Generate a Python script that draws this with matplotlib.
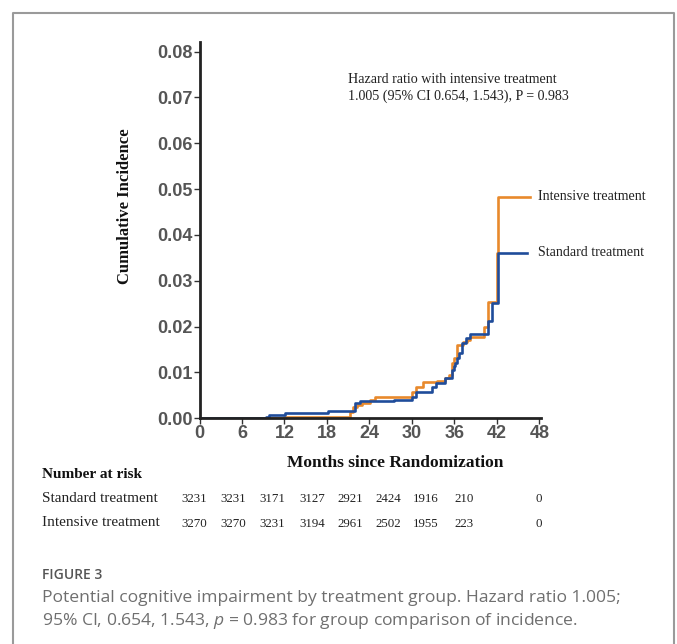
import matplotlib
matplotlib.use("Agg")
import matplotlib.pyplot as plt
from matplotlib.lines import Line2D

# step data (months, cumulative incidence)
std_t = [0, 9.4, 9.8, 12.1, 18.1, 21.9, 22.0, 22.6, 27.4, 30.0, 30.6, 32.8, 33.4,
         34.7, 35.6, 35.9, 36.1, 36.4, 36.6, 37.0, 37.6, 38.2, 40.8, 41.3, 42.2, 46.2]
std_y = [0, 0.0003, 0.0007, 0.0011, 0.0017, 0.0023, 0.0033, 0.0038, 0.0041, 0.0047,
         0.0058, 0.0069, 0.0078, 0.0087, 0.0105, 0.0115, 0.0121, 0.0132, 0.0142,
         0.0164, 0.0175, 0.0184, 0.0213, 0.0251, 0.0361, 0.0361]

int_t = [0, 12.0, 21.3, 21.7, 22.3, 22.9, 24.1, 24.8, 30.0, 30.6, 31.6, 33.5, 34.7,
         35.3, 35.6, 35.9, 36.3, 37.2, 37.8, 38.2, 40.2, 40.8, 42.0, 42.1, 42.2, 46.6]
int_y = [0, 0.0002, 0.0014, 0.0024, 0.0029, 0.0033, 0.0041, 0.0047, 0.0058, 0.0068,
         0.0080, 0.0082, 0.0087, 0.0094, 0.0120, 0.0131, 0.0160, 0.0167, 0.0171,
         0.0178, 0.0200, 0.0254, 0.0360, 0.0418, 0.0483, 0.0483]

x_ticks = [0, 6, 12, 18, 24, 30, 36, 42, 48]
y_ticks = [0.00, 0.01, 0.02, 0.03, 0.04, 0.05, 0.06, 0.07, 0.08]

risk_rows = ["Standard treatment", "Intensive treatment"]
risk_std = ["3231", "3231", "3171", "3127", "2921", "2424", "1916", "210", "0"]
risk_int = ["3270", "3270", "3231", "3194", "2961", "2502", "1955", "223", "0"]

orange = "#E8892C"
blue = "#1F4C9A"
serif = "Liberation Serif"

W, H = 677, 644
fig = plt.figure(figsize=(W / 100, H / 100), dpi=100)

# outer frame (bottom edge runs off the picture)
fig.add_artist(Line2D([13 / W, 13 / W, 674 / W, 674 / W], [0, 1 - 13 / H, 1 - 13 / H, 0],
                      transform=fig.transFigure, color="#9a9a9a", lw=1.5))

ax = fig.add_axes([199.5 / W, 1 - 418.3 / H, 341 / W, 376.3 / H])
ax.step(int_t, int_y, where="post", color=orange, lw=1.9)
ax.step(std_t, std_y, where="post", color=blue, lw=1.9)
ax.set_xlim(0, 48.15)
ax.set_ylim(0, 0.0821)
ax.set_xticks(x_ticks)
ax.set_yticks(y_ticks)
ax.set_yticklabels(["%.2f" % v for v in y_ticks])
for s in ["top", "right"]:
    ax.spines[s].set_visible(False)
for s in ["left", "bottom"]:
    ax.spines[s].set_linewidth(2)
    ax.spines[s].set_color("#222222")
ax.tick_params(length=4, width=1, color="#333333", pad=1)
for lab in ax.get_xticklabels() + ax.get_yticklabels():
    lab.set_fontfamily("Liberation Sans")
    lab.set_fontweight("bold")
    lab.set_fontsize(13)
    lab.set_color("#555555")

ax.text(47.8, int_y[-1], "Intensive treatment", family=serif, fontsize=10.1,
        va="center", ha="left", color="#222222", clip_on=False)
ax.text(47.8, std_y[-1], "Standard treatment", family=serif, fontsize=10.1,
        va="center", ha="left", color="#222222", clip_on=False)

ax.text(21.0, 0.0720, "Hazard ratio with intensive treatment\n1.005 (95% CI 0.654, 1.543), P = 0.983",
        family=serif, fontsize=10.1, va="center", ha="left", color="#222222", linespacing=1.35)

fig.text(125 / W, 1 - 206 / H, "Cumulative Incidence", family=serif, fontweight="bold",
         fontsize=12, rotation=90, ha="center", va="center", color="#111111")
fig.text(395 / W, 1 - 463 / H, "Months since Randomization", family=serif, fontweight="bold",
         fontsize=12.5, ha="center", va="center", color="#111111")

# number at risk table
fig.text(42 / W, 1 - 474 / H, "Number at risk", family=serif, fontweight="bold",
         fontsize=11, ha="left", va="center", color="#111111")
row_y = [498, 523]
col_x = [194, 233, 272, 312, 350, 388, 426, 464, 539]
for name, vals, yy in zip(risk_rows, [risk_std, risk_int], row_y):
    fig.text(42 / W, 1 - yy / H, name, family=serif, fontsize=11, ha="left", va="center",
             color="#222222")
    for xx, v in zip(col_x, vals):
        fig.text(xx / W, 1 - (yy + 1) / H, v, family=serif, fontsize=9.3, ha="center",
                 va="center", color="#222222")

# caption
plt.rcParams["mathtext.fontset"] = "custom"
plt.rcParams["mathtext.it"] = "Open Sans:italic"
plt.rcParams["mathtext.rm"] = "Open Sans"
fig.text(42 / W, 1 - 575 / H, "FIGURE 3", family="Open Sans", fontsize=10,
         fontweight="semibold", ha="left", va="center", color="#555555")
fig.text(42 / W, 1 - 598 / H,
         "Potential cognitive impairment by treatment group. Hazard ratio 1.005;",
         family="Open Sans", fontsize=12.6, ha="left", va="center", color="#6f6f6f")
fig.text(42 / W, 1 - 621 / H,
         "95% CI, 0.654, 1.543, $p$ = 0.983 for group comparison of incidence.",
         family="Open Sans", fontsize=12.6, ha="left", va="center", color="#6f6f6f")

fig.savefig("out.png", dpi=100)
